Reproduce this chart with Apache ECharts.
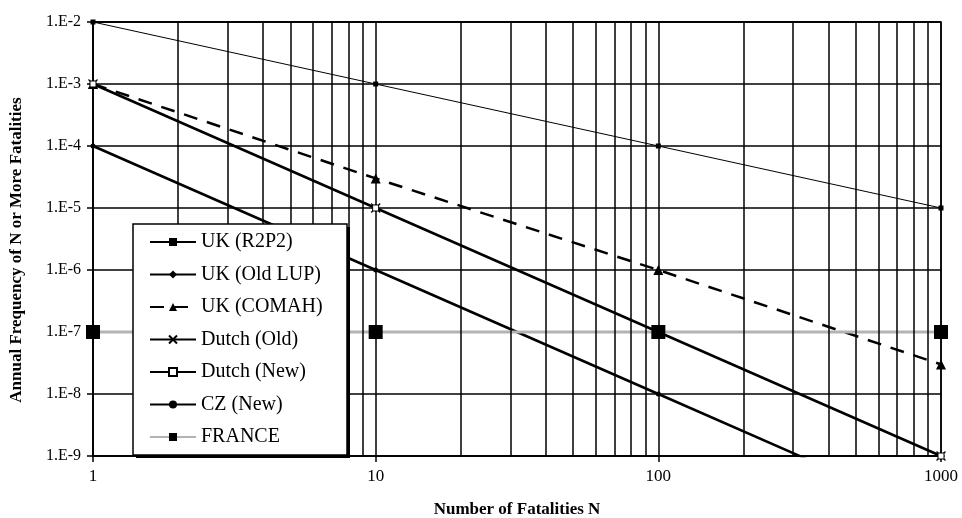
<!DOCTYPE html>
<html>
<head>
<meta charset="utf-8">
<script src="https://cdn.jsdelivr.net/npm/echarts@6/dist/echarts.min.js"></script>
<style>
  html, body { margin: 0; padding: 0; background: #fff; }
  #container { width: 962px; height: 518px; }
</style>
</head>
<body>
<div id="container"></div>
<script>
var fatalities = [1, 10, 100, 1000];
var ukR2P2 = [1e-2, 1e-3, 1e-4, 1e-5];
var ukOldLUP = [1e-3, 1e-5, 1e-7, 1e-9];
var ukCOMAH = [1e-3, 3e-5, 1e-6, 3e-8];
var dutchOld = [1e-3, 1e-5, 1e-7, 1e-9];
var dutchNew = [1e-3, 1e-5, 1e-7, 1e-9];
var czNew = [1e-4, 1e-6, 1e-8, 1e-10];
var france = [1e-7, 1e-7, 1e-7, 1e-7];
var minorN = [2, 3, 4, 5, 6, 7, 8, 9, 20, 30, 40, 50, 60, 70, 80, 90, 200, 300, 400, 500, 600, 700, 800, 900];
var legendNames = ['UK (R2P2)', 'UK (Old LUP)', 'UK (COMAH)', 'Dutch (Old)', 'Dutch (New)', 'CZ (New)', 'FRANCE'];

var serif = 'Liberation Serif';

function pairs(ys) {
    return fatalities.map(function (n, i) { return [n, ys[i]]; });
}

var dom = document.getElementById('container');
var myChart = echarts.init(dom);

var option = {
    animation: false,
    grid: {
        left: 93, right: 21, top: 22, bottom: 62,
        outerBoundsMode: 'none',
        show: true, borderColor: '#000', borderWidth: 1.5
    },
    xAxis: {
        type: 'log',
        logBase: 10,
        min: 1,
        max: 1000,
        splitNumber: 3,
        name: 'Number of Fatalities N',
        nameLocation: 'middle',
        nameGap: 45,
        nameTextStyle: { fontFamily: serif, fontWeight: 'bold', fontSize: 17, color: '#000' },
        axisLine: { lineStyle: { color: '#000', width: 1.5 } },
        axisTick: { show: true, length: 6, lineStyle: { color: '#000', width: 1.5 } },
        axisLabel: {
            fontFamily: serif, fontSize: 17, color: '#000', margin: 12,
            formatter: function (v) { return String(Math.round(v)); }
        },
        splitLine: { show: true, lineStyle: { color: '#000', width: 1.5 } }
    },
    yAxis: {
        type: 'log',
        logBase: 10,
        min: 1e-9,
        max: 1e-2,
        splitNumber: 7,
        name: 'Annual Frequency of N or More Fatalities',
        nameLocation: 'middle',
        nameGap: 68,
        nameRotate: 90,
        nameTextStyle: { fontFamily: serif, fontWeight: 'bold', fontSize: 17, color: '#000', padding: [0, 22, 0, 0] },
        axisLine: { lineStyle: { color: '#000', width: 1.5 } },
        axisTick: { show: true, length: 6, lineStyle: { color: '#000', width: 1.5 } },
        axisLabel: {
            fontFamily: serif, fontSize: 16, color: '#000', margin: 12,
            formatter: function (v) { return '1.E' + Math.round(Math.log10(v)); }
        },
        splitLine: { show: true, lineStyle: { color: '#000', width: 1.5 } }
    },
    graphic: [
        { type: 'rect', z: 18, shape: { x: 136, y: 227, width: 214, height: 231 }, style: { fill: '#000' } },
        { type: 'rect', z: 19, shape: { x: 133, y: 224, width: 214, height: 231 }, style: { fill: '#fff', stroke: '#000', lineWidth: 1.5 } }
    ],
    legend: {
        orient: 'vertical',
        left: 133,
        top: 224,
        z: 20,
        itemWidth: 46,
        itemHeight: 10,
        itemGap: 12.5,
        padding: [8, 20, 8, 16],
        textStyle: { fontFamily: serif, fontSize: 20, color: '#000' },
        data: legendNames
    },
    series: [
        {
            name: 'grid-minor',
            type: 'line',
            data: [],
            silent: true,
            markLine: {
                silent: true,
                symbol: 'none',
                label: { show: false },
                lineStyle: { color: '#000', width: 1.5, type: 'solid' },
                data: minorN.map(function (n) { return { xAxis: n }; })
            }
        },
        {
            name: 'UK (R2P2)', type: 'line', data: pairs(ukR2P2),
            symbol: 'rect', symbolSize: 5,
            lineStyle: { color: '#000', width: 1 },
            itemStyle: { color: '#000' }
        },
        {
            name: 'UK (Old LUP)', type: 'line', data: pairs(ukOldLUP),
            symbol: 'diamond', symbolSize: 8,
            lineStyle: { color: '#000', width: 2.5 },
            itemStyle: { color: '#000' }
        },
        {
            name: 'UK (COMAH)', type: 'line', data: pairs(ukCOMAH),
            symbol: 'triangle', symbolSize: 10,
            lineStyle: { color: '#000', width: 2.5, type: [14, 10] },
            itemStyle: { color: '#000' }
        },
        {
            name: 'Dutch (Old)', type: 'line', data: pairs(dutchOld),
            symbol: 'path://M0,0L10,10M10,0L0,10', symbolSize: 9,
            lineStyle: { color: '#000', width: 1 },
            itemStyle: { color: '#000', borderColor: '#000', borderWidth: 1.2 }
        },
        {
            name: 'Dutch (New)', type: 'line', data: pairs(dutchNew),
            symbol: 'rect', symbolSize: 6,
            lineStyle: { color: '#000', width: 1 },
            itemStyle: { color: '#fff', borderColor: '#000', borderWidth: 1 }
        },
        {
            name: 'CZ (New)', type: 'line', data: pairs(czNew),
            symbol: 'circle', symbolSize: 5,
            lineStyle: { color: '#000', width: 2.5 },
            itemStyle: { color: '#000' }
        },
        {
            name: 'FRANCE', type: 'line', data: pairs(france),
            symbol: 'rect', symbolSize: 14,
            lineStyle: { color: '#b3b3b3', width: 3 },
            itemStyle: { color: '#000' }
        }
    ]
};

myChart.setOption(option, true);
</script>
</body>
</html>
